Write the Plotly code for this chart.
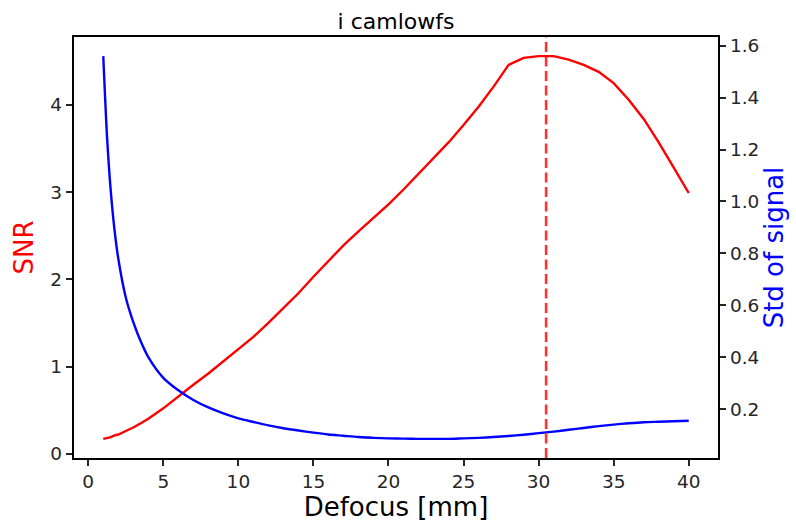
import plotly.graph_objects as go

# Defocus positions [mm]
defocus = [1, 1.25, 1.5, 1.75, 2, 2.5, 3, 3.5, 4, 5, 6, 7, 8, 9, 10,
           11, 12, 13, 14, 15, 16, 17, 18, 19, 20, 21, 22, 23, 24, 25,
           26, 27, 28, 29, 30, 31, 32, 33, 34, 35, 36, 37, 38, 39, 40]

# Signal-to-noise ratio at each defocus
snr = [0.17, 0.18, 0.19, 0.21, 0.22, 0.26, 0.30, 0.35, 0.40, 0.52, 0.66, 0.79, 0.92, 1.06, 1.20,
       1.34, 1.50, 1.67, 1.84, 2.03, 2.21, 2.39, 2.55, 2.70, 2.86, 3.03, 3.21, 3.39, 3.57, 3.77,
       3.98, 4.21, 4.46, 4.54, 4.56, 4.56, 4.52, 4.46, 4.38, 4.25, 4.06, 3.84, 3.57, 3.28, 2.99]

# Standard deviation of the signal at each defocus
std_signal = [1.56, 1.25, 1.04, 0.89, 0.78, 0.63, 0.535, 0.46, 0.40, 0.32, 0.272, 0.235, 0.206, 0.183, 0.164,
              0.150, 0.137, 0.126, 0.117, 0.109, 0.102, 0.097, 0.092, 0.089, 0.087, 0.086, 0.085, 0.085, 0.085, 0.087,
              0.089, 0.092, 0.096, 0.101, 0.107, 0.113, 0.120, 0.127, 0.134, 0.140, 0.145, 0.149, 0.151, 0.153, 0.155]

# Defocus giving the best SNR
best_defocus = 30.5

left_ticks = [0, 1, 2, 3, 4]
right_ticks = [0.2, 0.4, 0.6, 0.8, 1.0, 1.2, 1.4, 1.6]
x_ticks = [0, 5, 10, 15, 20, 25, 30, 35, 40]


def padded(vals, frac=0.05):
    lo, hi = min(vals), max(vals)
    pad = (hi - lo) * frac
    return [lo - pad, hi + pad]


FONT = "DejaVu Sans"
TXT = "#262626"
TICK = 18.5
LAB = 26
SPINE = 1.5
TLEN = 6.5
LW = 2.4

fig = go.Figure()
fig.add_trace(go.Scatter(x=defocus, y=snr, mode="lines",
                         line=dict(color="#ff0000", width=LW),
                         yaxis="y", showlegend=False, hoverinfo="skip"))
fig.add_trace(go.Scatter(x=defocus, y=std_signal, mode="lines",
                         line=dict(color="#0000ff", width=LW, shape="spline", smoothing=0.8),
                         yaxis="y2", showlegend=False, hoverinfo="skip"))

fig.add_shape(type="line", xref="x", yref="paper",
              x0=best_defocus, x1=best_defocus, y0=0, y1=1,
              line=dict(color="rgba(255,0,0,0.8)", width=2.6, dash="10px,4.5px"),
              layer="above")

fig.update_layout(
    width=796, height=529,
    margin=dict(l=74, r=76, t=37, b=70),
    paper_bgcolor="white", plot_bgcolor="white",
    font=dict(family=FONT, color=TXT, size=TICK),
    title=dict(text="i camlowfs", x=0.5, xanchor="center",
               xref="paper", y=1, yref="paper", yanchor="bottom",
               pad=dict(b=8), font=dict(size=22, color="black", family=FONT)),
    xaxis=dict(range=padded(defocus), tickvals=x_ticks,
               showgrid=False, zeroline=False,
               showline=True, linecolor="black", linewidth=SPINE, mirror=True,
               ticks="outside", ticklen=TLEN, tickwidth=SPINE, tickcolor=TXT,
               tickfont=dict(size=TICK, color=TXT),
               title=dict(text="Defocus [mm]", font=dict(size=LAB, color="black"),
                          standoff=6)),
    yaxis=dict(range=padded(snr), tickvals=left_ticks,
               showgrid=False, zeroline=False,
               showline=True, linecolor="black", linewidth=SPINE,
               ticks="outside", ticklen=TLEN, tickwidth=SPINE, tickcolor=TXT,
               tickfont=dict(size=TICK, color=TXT),
               title=dict(text="SNR", font=dict(size=LAB, color="#ff0000"),
                          standoff=9)),
    yaxis2=dict(range=padded(std_signal), tickvals=right_ticks, tickformat=".1f",
                overlaying="y", side="right",
                showgrid=False, zeroline=False,
                showline=True, linecolor="black", linewidth=SPINE,
                ticks="outside", ticklen=TLEN, tickwidth=SPINE, tickcolor=TXT,
                tickfont=dict(size=TICK, color=TXT),
                title=dict(text="Std of signal", font=dict(size=LAB, color="#0000ff"),
                           standoff=6)),
)

fig.write_html("out.html")
